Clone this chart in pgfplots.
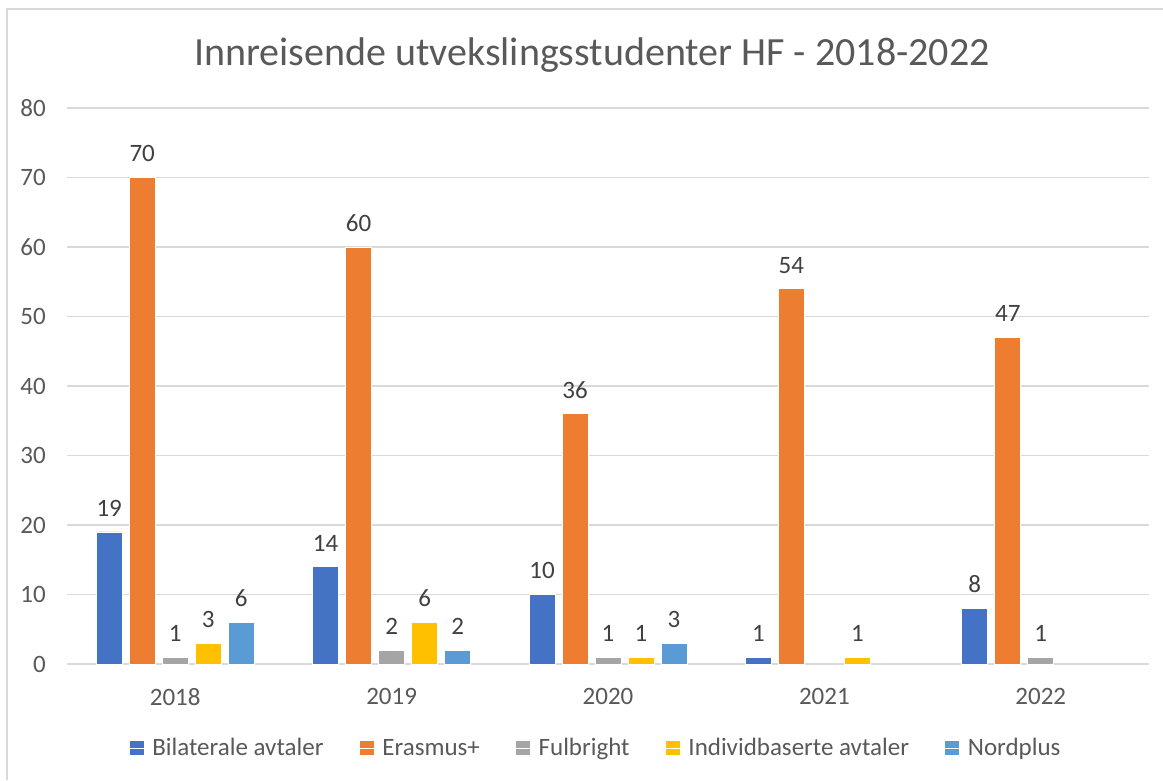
\documentclass[border=0pt]{standalone}
\usepackage{pgfplots}
\pgfplotsset{compat=1.18}
\usepackage{fontspec}
\setmainfont{Carlito}
\definecolor{cBil}{HTML}{4472C4}
\definecolor{cEra}{HTML}{ED7D31}
\definecolor{cFul}{HTML}{A5A5A5}
\definecolor{cInd}{HTML}{FFC000}
\definecolor{cNor}{HTML}{5B9BD5}
\definecolor{txtg}{HTML}{595959}
\definecolor{lblg}{HTML}{404040}
\definecolor{gridg}{HTML}{D9D9D9}
\begin{document}
\begin{tikzpicture}[x=1pt,y=1pt]
\useasboundingbox (0,0) rectangle (1163,780);
\fill[white] (0,0) rectangle (1163,780);
\draw[gridg, line width=1.2pt] (7,0) -- (7,771) -- (1163,771);
\node[font=\fontsize{40}{48}\selectfont, text=txtg, anchor=base, inner sep=0pt] at (592,714) {Innreisende utvekslingsstudenter HF - 2018-2022};
\begin{axis}[
  at={(67pt,116pt)}, anchor=south west,
  scale only axis, width=1082pt, height=556pt,
  ymin=0, ymax=80, ytick={0,10,...,80},
  xmin=-0.5, xmax=4.5,
  xtick={0,1,2,3,4}, xticklabels={2018,2019,2020,2021,2022},
  ybar=7pt, bar width=26pt,
  axis line style={draw=none},
  axis x line*=bottom,
  axis y line*=left,
  ymajorgrids, grid style={gridg, line width=1.2pt},
  major tick length=0pt,
  tick label style={font=\fontsize{25}{30}\selectfont, text=txtg},
  /pgf/number format/assume math mode=true,
  xticklabel style={inner sep=0pt, anchor=north, yshift=-24pt},
  yticklabel style={inner sep=0pt, anchor=east, xshift=-21pt},
  nodes near coords,
  every node near coord/.append style={font=\fontsize{25}{30}\selectfont, text=lblg, inner sep=0pt, anchor=south, yshift=15pt},
  every axis plot/.append style={draw=white, line width=0.8pt},
  legend columns=-1,
  legend style={at={(529pt,-84pt)}, anchor=center, draw=none, fill=none,
    font=\fontsize{25}{30}\selectfont, text=txtg,
    /tikz/every even column/.append style={column sep=34pt},
    inner sep=0pt},
  legend image code/.code={\fill[#1, draw=none] (0pt,-7pt) rectangle (14pt,7pt); \path (0pt,0pt) -- (20pt,0pt);},
  clip=false,
]
\draw[gridg, line width=1.4pt] (axis cs:-0.5,0) -- (axis cs:4.5,0);
\addplot[fill=cBil] coordinates {(0,19) (1,14) (2,10) (3,1) (4,8)};
\addplot[fill=cEra] coordinates {(0,70) (1,60) (2,36) (3,54) (4,47)};
\addplot[fill=cFul] coordinates {(0,1) (1,2) (2,1) (4,1)};
\addplot[fill=cInd] coordinates {(0,3) (1,6) (2,1) (3,1)};
\addplot[fill=cNor] coordinates {(0,6) (1,2) (2,3)};
\legend{Bilaterale avtaler, Erasmus+, Fulbright, Individbaserte avtaler, Nordplus}
\end{axis}
\end{tikzpicture}
\end{document}
